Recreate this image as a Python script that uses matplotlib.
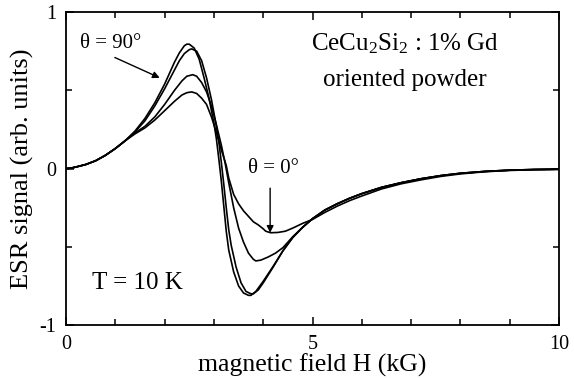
import matplotlib
matplotlib.use('Agg')
import matplotlib.pyplot as plt
from matplotlib.ticker import MultipleLocator

# ESR derivative spectra (H in kG, signal in arb. units)
h_rise = [0, 0.1, 0.2, 0.4, 0.6, 0.8, 1.0, 1.2]
s_rise = [0, 0.003, 0.01, 0.026, 0.05, 0.085, 0.128, 0.178]

h_tail = [5.25, 5.5, 5.75, 6.0, 6.4, 6.8, 7.2, 7.6, 8.0, 8.5, 9.0, 9.5, 10]
s_tail = [-0.265, -0.225, -0.19, -0.16, -0.12, -0.09, -0.065, -0.045, -0.03, -0.018, -0.01, -0.006, -0.004]

h_90 = h_rise + [1.4, 1.6, 1.8, 2.0, 2.1, 2.2, 2.3, 2.4, 2.45, 2.5, 2.6, 2.7, 2.8, 2.9,
                 3.0, 3.05, 3.1, 3.15, 3.2, 3.25, 3.3, 3.4, 3.5, 3.6, 3.7, 3.75, 3.85,
                 4.0, 4.2, 4.4, 4.6, 4.8, 5.0] + h_tail
s_90 = s_rise + [0.24, 0.32, 0.42, 0.54, 0.61, 0.68, 0.74, 0.785, 0.795, 0.795, 0.77, 0.70, 0.58, 0.45,
                 0.29, 0.19, 0.06, -0.08, -0.24, -0.40, -0.52, -0.66, -0.75, -0.795, -0.81, -0.81, -0.785,
                 -0.72, -0.625, -0.525, -0.44, -0.375, -0.32] + s_tail

h_60 = h_rise + [1.4, 1.6, 1.8, 2.0, 2.1, 2.2, 2.3, 2.4, 2.5, 2.55, 2.65, 2.75, 2.85, 2.95,
                 3.05, 3.1, 3.15, 3.2, 3.25, 3.3, 3.35, 3.45, 3.55, 3.65, 3.75, 3.8, 3.9,
                 4.0, 4.2, 4.4, 4.6, 4.8, 5.0] + h_tail
s_60 = s_rise + [0.235, 0.305, 0.40, 0.51, 0.57, 0.63, 0.69, 0.735, 0.76, 0.765, 0.75, 0.69, 0.58, 0.44,
                 0.27, 0.17, 0.04, -0.10, -0.25, -0.39, -0.49, -0.63, -0.73, -0.785, -0.80, -0.80, -0.775,
                 -0.73, -0.63, -0.525, -0.44, -0.375, -0.32] + s_tail

h_30 = h_rise + [1.4, 1.6, 1.8, 2.0, 2.2, 2.35, 2.45, 2.57, 2.65, 2.75, 2.85, 2.95, 3.05, 3.15,
                 3.23, 3.3, 3.4, 3.5, 3.6, 3.7, 3.8, 3.85, 3.95, 4.1, 4.25, 4.4, 4.6,
                 4.8, 5.0] + h_tail
s_30 = s_rise + [0.228, 0.27, 0.33, 0.41, 0.50, 0.56, 0.59, 0.60, 0.59, 0.55, 0.49, 0.40, 0.28, 0.15,
                 0.03, -0.09, -0.25, -0.38, -0.47, -0.54, -0.58, -0.59, -0.585, -0.565, -0.54, -0.505, -0.435,
                 -0.375, -0.32] + s_tail

h_0 = h_rise + [1.4, 1.6, 1.8, 2.0, 2.2, 2.35, 2.45, 2.55, 2.65, 2.75, 2.85, 2.95, 3.05, 3.15,
                3.25, 3.3, 3.4, 3.5, 3.6, 3.7, 3.8, 3.9, 4.0, 4.05, 4.15, 4.3, 4.45,
                4.6, 4.8, 5.0, 5.25, 5.5, 5.75, 6.0, 6.4, 6.8, 7.2, 7.6, 8.0, 8.5, 9.0, 9.5, 10]
s_0 = s_rise + [0.222, 0.26, 0.31, 0.37, 0.43, 0.47, 0.485, 0.49, 0.48, 0.45, 0.41, 0.33, 0.23, 0.12,
                0.02, -0.06, -0.165, -0.225, -0.27, -0.305, -0.34, -0.36, -0.385, -0.40, -0.41, -0.408, -0.40,
                -0.38, -0.35, -0.325, -0.28, -0.24, -0.205, -0.175, -0.13, -0.097, -0.072, -0.05, -0.034, -0.02, -0.012, -0.007, -0.005]

curves = [(h_90, s_90), (h_60, s_60), (h_30, s_30), (h_0, s_0)]

plt.rcParams['font.family'] = ['Liberation Serif', 'DejaVu Serif']
plt.rcParams['mathtext.fontset'] = 'custom'
plt.rcParams['mathtext.rm'] = 'Liberation Serif'
plt.rcParams['mathtext.it'] = 'Liberation Serif:italic'

fig = plt.figure(figsize=(5.74, 3.78), dpi=100)
ax = fig.add_axes([0.115, 0.140, 0.859, 0.828])

for h, s in curves:
    ax.plot(h, s, color='black', lw=1.2, solid_joinstyle='round')

ax.set_xlim(0, 10)
ax.set_ylim(-1, 1)
ax.set_xticks([0, 5, 10])
ax.set_yticks([-1, 0, 1])
ax.set_yticklabels(['-1', '0', '1'])
ax.xaxis.set_minor_locator(MultipleLocator(1))
ax.yaxis.set_minor_locator(MultipleLocator(0.5))
ax.tick_params(which='both', direction='in', top=True, right=True, width=1.1)
ax.tick_params(which='major', length=6, labelsize=14.5, pad=7)
ax.tick_params(which='minor', length=4)
for sp in ax.spines.values():
    sp.set_linewidth(1.3)

ax.set_xlabel('magnetic field H (kG)', fontsize=18.5, labelpad=0)
ax.set_ylabel('ESR signal (arb. units)', fontsize=19, labelpad=4)

arrow = dict(arrowstyle='-|>', color='black', lw=1.0, mutation_scale=10,
             shrinkA=0, shrinkB=0)
ax.text(0.28, 0.80, 'θ = 90°', fontsize=15, va='center', ha='left')
ax.annotate('', xy=(1.9, 0.58), xytext=(0.99, 0.71), arrowprops=arrow)
ax.text(3.69, 0.0, 'θ = 0°', fontsize=15, va='center', ha='left')
ax.annotate('', xy=(4.14, -0.41), xytext=(4.14, -0.125), arrowprops=arrow)

ax.text(6.88, 0.80, 'CeCu$_2$Si$_2$ : 1% Gd', fontsize=18, ha='center', va='center')
ax.text(6.88, 0.565, 'oriented powder', fontsize=18, ha='center', va='center')
ax.text(0.53, -0.73, 'T = 10 K', fontsize=18, ha='left', va='center')

fig.savefig('out.png', dpi=100)
